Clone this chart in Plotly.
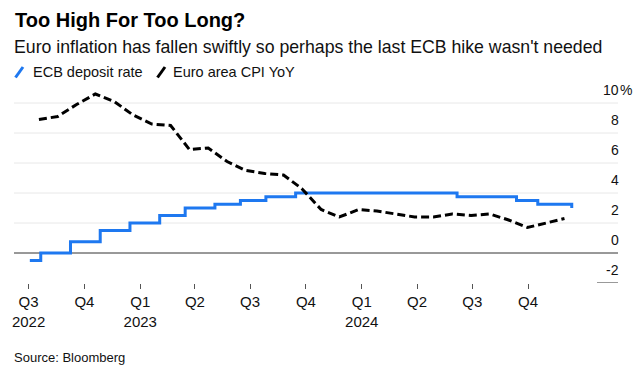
import plotly.graph_objects as go

# ---------------- data ----------------
rate_dates = ["2022-07-03", "2022-07-21", "2022-09-08", "2022-10-27", "2022-12-15",
              "2023-02-02", "2023-03-16", "2023-05-04", "2023-06-15", "2023-07-27",
              "2023-09-14", "2024-06-06", "2024-09-12", "2024-10-17", "2024-12-12"]
rate_values = [-0.5, 0.0, 0.75, 1.5, 2.0, 2.5, 3.0, 3.25, 3.5, 3.75, 4.0, 3.75, 3.5, 3.25, 3.0]

cpi_dates = ["2022-07-18", "2022-08-18", "2022-09-18", "2022-10-19", "2022-11-19", "2022-12-20",
             "2023-01-20", "2023-02-20", "2023-03-23", "2023-04-23", "2023-05-24", "2023-06-24",
             "2023-07-25", "2023-08-25", "2023-09-24", "2023-10-26", "2023-11-25", "2023-12-27",
             "2024-01-26", "2024-02-26", "2024-03-28", "2024-04-28", "2024-05-29", "2024-06-29",
             "2024-07-30", "2024-08-30", "2024-09-30", "2024-10-31", "2024-11-30"]
cpi_values = [8.9, 9.1, 9.9, 10.6, 10.1, 9.2,
              8.6, 8.5, 6.9, 7.0, 6.1, 5.5,
              5.3, 5.2, 4.3, 2.9, 2.4, 2.9,
              2.8, 2.6, 2.4, 2.4, 2.6, 2.5,
              2.6, 2.2, 1.7, 2.0, 2.3]

x_tick_vals = ["2022-07-01", "2022-10-01", "2023-01-01", "2023-04-01", "2023-07-01",
               "2023-10-01", "2024-01-01", "2024-04-01", "2024-07-01", "2024-10-01"]
x_tick_text = ["Q3<br>2022", "Q4", "Q1<br>2023", "Q2", "Q3", "Q4", "Q1<br>2024", "Q2", "Q3", "Q4"]

y_tick_vals = [10, 8, 6, 4, 2, 0, -2]
y_tick_text = ["10", "8", "6", "4", "2", "0", "-2"]

title = "Too High For Too Long?"
subtitle = "Euro inflation has fallen swiftly so perhaps the last ECB hike wasn't needed"
series_names = ["ECB deposit rate", "Euro area CPI YoY"]
source = "Source: Bloomberg"

# ---------------- layout geometry (pixels) ----------------
W, H = 636, 375
L, R, T, B = 14, 618, 88, 283
FONT = "Liberation Sans, Arial, Helvetica, sans-serif"
BLUE = "#1e78f0"
BLACK = "#000000"


def px(x):
    return (x - L) / (R - L)


def py(y):
    return (B - y) / (B - T)


fig = go.Figure()
fig.add_trace(go.Scatter(x=rate_dates, y=rate_values, mode="lines", line_shape="hv",
                         line=dict(color=BLUE, width=3), name=series_names[0],
                         hoverinfo="skip"))
fig.add_trace(go.Scatter(x=cpi_dates, y=cpi_values, mode="lines",
                         line=dict(color=BLACK, width=3, dash="8px,4px"), name=series_names[1],
                         hoverinfo="skip"))

shapes = []
annotations = []

# horizontal gridlines
for v in y_tick_vals:
    if v > 0:
        shapes.append(dict(type="line", xref="paper", yref="y", x0=0, x1=1, y0=v, y1=v,
                           line=dict(color="#e8e8e8", width=1), layer="below"))
    elif v == 0:
        shapes.append(dict(type="line", xref="paper", yref="y", x0=0, x1=1, y0=v, y1=v,
                           line=dict(color="#333333", width=1), layer="below"))
    else:
        shapes.append(dict(type="line", xref="paper", yref="y", x0=px(597), x1=1, y0=v, y1=v,
                           line=dict(color="#333333", width=1), layer="below"))

# y labels (right side, above gridlines)
for v, t in zip(y_tick_vals, y_tick_text):
    annotations.append(dict(text=t, xref="paper", yref="y", x=1, y=v, xanchor="right",
                            yanchor="middle", yshift=13, xshift=3, showarrow=False,
                            font=dict(family=FONT, size=14, color="#111111")))
    if v == max(y_tick_vals):
        annotations.append(dict(text="%", xref="paper", yref="y", x=1, y=v, xanchor="left",
                                yanchor="middle", yshift=13, xshift=0, showarrow=False,
                                font=dict(family=FONT, size=14, color="#111111")))

# title / subtitle
annotations.append(dict(text="<b>" + title + "</b>", xref="paper", yref="paper", x=px(13), y=py(20),
                        xanchor="left", yanchor="middle", showarrow=False,
                        font=dict(family=FONT, size=20, color="#000000")))
annotations.append(dict(text=subtitle, xref="paper", yref="paper", x=px(12), y=py(47),
                        xanchor="left", yanchor="middle", showarrow=False,
                        font=dict(family=FONT, size=17.7, color="#111111")))

# legend
shapes.append(dict(type="line", xref="paper", yref="paper", x0=px(15.5), y0=py(77.5),
                   x1=px(23), y1=py(67), line=dict(color=BLUE, width=3)))
shapes.append(dict(type="line", xref="paper", yref="paper", x0=px(157.5), y0=py(77.5),
                   x1=px(165), y1=py(67), line=dict(color=BLACK, width=3)))
annotations.append(dict(text=series_names[0], xref="paper", yref="paper", x=px(31), y=py(72),
                        xanchor="left", yanchor="middle", showarrow=False,
                        font=dict(family=FONT, size=14.5, color="#111111")))
annotations.append(dict(text=series_names[1], xref="paper", yref="paper", x=px(171), y=py(72),
                        xanchor="left", yanchor="middle", showarrow=False,
                        font=dict(family=FONT, size=14.5, color="#111111")))

# source
annotations.append(dict(text=source, xref="paper", yref="paper", x=px(12), y=py(357),
                        xanchor="left", yanchor="middle", showarrow=False,
                        font=dict(family=FONT, size=13, color="#111111")))

fig.update_layout(
    width=W, height=H,
    margin=dict(l=L, r=W - R, t=T, b=H - B, pad=0),
    paper_bgcolor="white", plot_bgcolor="white",
    showlegend=False,
    shapes=shapes, annotations=annotations,
    xaxis=dict(type="date", range=["2022-06-06 22:00", "2025-02-26 05:00"],
               tickmode="array", tickvals=x_tick_vals, ticktext=x_tick_text,
               ticks="outside", ticklen=5, tickwidth=1, tickcolor="#555555",
               showgrid=False, zeroline=False, showline=False,
               tickfont=dict(family=FONT, size=15, color="#111111"), fixedrange=True),
    yaxis=dict(range=[-2, 11], showgrid=False, zeroline=False, showline=False,
               showticklabels=False, ticks="", fixedrange=True),
)

fig.write_html("out.html", config={"displayModeBar": False},
               post_script="document.body.style.margin='0';document.body.style.padding='0';")
